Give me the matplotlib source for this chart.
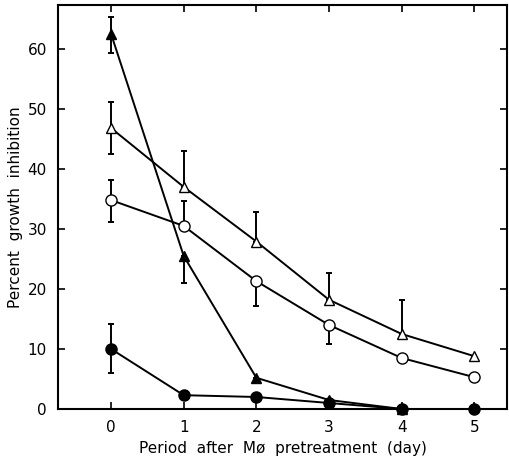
import matplotlib
matplotlib.use("Agg")
import matplotlib.pyplot as plt
import numpy as np

days = [0, 1, 2, 3, 4, 5]

# filled triangles
ft_y = [62.5, 25.5, 5.2, 1.5, 0.0]
ft_lo = [3.2, 4.5, 0, 0, 0]
ft_hi = [2.8, 0, 0, 0, 0]

# open triangles
ot_y = [46.8, 37.0, 27.9, 18.2, 12.5, 8.8]
ot_lo = [4.3, 0, 0, 0, 0, 0]
ot_hi = [4.4, 6.0, 5.0, 4.4, 5.6, 0]

# open circles
oc_y = [34.8, 30.5, 21.3, 14.0, 8.5, 5.3]
oc_lo = [3.6, 0, 4.2, 3.2, 0, 0]
oc_hi = [3.4, 4.2, 0, 0, 0, 0]

# filled circles
fc_y = [10.0, 2.3, 2.0, 1.0, 0.0, 0.0]
fc_lo = [4.0, 0, 0, 0, 0, 0]
fc_hi = [4.2, 0, 0, 0, 0, 0]

fig = plt.figure(figsize=(5.09, 4.58), dpi=100)
ax = fig.add_axes([0.114, 0.107, 0.882, 0.882])

kw = dict(color="black", lw=1.4, elinewidth=1.4, capsize=2.5, capthick=1.4, clip_on=False, zorder=3)
ax.errorbar(days[:5], ft_y, yerr=[ft_lo, ft_hi], fmt="^-", mfc="black", mec="black", markersize=7, **kw)
ax.errorbar(days, ot_y, yerr=[ot_lo, ot_hi], fmt="^-", mfc="white", mec="black", markersize=7, **kw)
ax.errorbar(days, oc_y, yerr=[oc_lo, oc_hi], fmt="o-", mfc="white", mec="black", markersize=8, **kw)
ax.errorbar(days, fc_y, yerr=[fc_lo, fc_hi], fmt="o-", mfc="black", mec="black", markersize=8, **kw)

ax.set_xlim(-0.73, 5.45)
ax.set_ylim(0, 67.3)
ax.set_xticks(days)
ax.set_yticks([0, 10, 20, 30, 40, 50, 60])
ax.tick_params(direction="in", top=True, right=True, length=5, width=1.2, labelsize=11, pad=8)
for s in ax.spines.values():
    s.set_linewidth(1.5)

ax.set_xlabel("Period  after  M\u00f8  pretreatment  (day)", fontsize=11, labelpad=4)
ax.set_ylabel("Percent  growth  inhibition", fontsize=11, labelpad=3)

fig.savefig("out.png", dpi=100)
